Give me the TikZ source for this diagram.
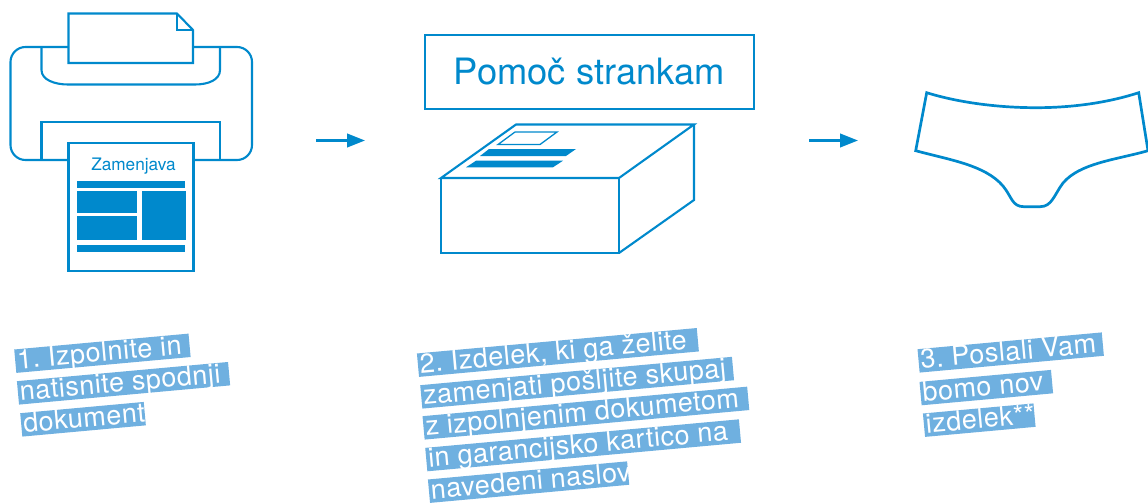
\documentclass[tikz,border=0pt]{standalone}
\usepackage{fontspec}
\setmainfont{TeX Gyre Heros}
\usetikzlibrary{arrows.meta}
\definecolor{blu}{RGB}{0,137,204}
\definecolor{hlc}{RGB}{111,176,224}
\newfontfamily\hlfont[LetterSpace=2]{TeX Gyre Heros}
\newcommand{\hltext}[2]{\makebox[#1][l]{\hspace{2pt}#2}}
\tikzset{
  outl/.style={draw=blu,line width=2.1pt,line join=miter,fill=white},
  lin/.style={draw=blu,line width=2.1pt},
  solidbar/.style={fill=blu,draw=none},
  flowarrow/.style={draw=blu,line width=2.6pt,-{Triangle[length=18pt,width=13.5pt]}},
  hl/.style={anchor=north west,rotate=5.2,fill=hlc,text=white,inner xsep=0pt,inner ysep=0pt,
    text height=19.8pt,text depth=3.7pt,
    font=\hlfont\fontsize{27}{30}\selectfont\frenchspacing},
}
\begin{document}
\begin{tikzpicture}[x=1pt,y=-1pt]
\useasboundingbox (0,0) rectangle (1148,503);
% printer
\draw[lin,rounded corners=15pt] (68.5,47) -- (10.5,47) -- (10.5,160) -- (68.5,160);
\draw[lin,rounded corners=15pt] (193,47) -- (252,47) -- (252,160) -- (193,160);
\draw[lin] (41.5,47) -- (41.5,70) .. controls (41.5,80) and (55,84.5) .. (68,84.5) -- (195,84.5) .. controls (208,84.5) and (220,80) .. (220,70) -- (220,47);
\draw[lin] (41.5,160) -- (41.5,122) -- (220,122) -- (220,160);
\draw[outl] (68.5,13.5) -- (177,13.5) -- (193,30) -- (193,63) -- (68.5,63) -- cycle;
\draw[lin] (177,13.5) -- (177,30) -- (193,30);
\draw[outl] (68.5,143) rectangle (193.5,271);
\node[text=blu,font=\fontsize{17.2}{20}\selectfont,inner sep=0pt] (zam) at (133.5,166) {Zamenjava};
\fill[solidbar] (77,181) rectangle (185,188);
\fill[solidbar] (77,191) rectangle (137,212.5);
\fill[solidbar] (142,191) rectangle (186,240);
\fill[solidbar] (77,216) rectangle (137,240);
\fill[solidbar] (77,245) rectangle (185,252);
% arrows
\coordinate (a1s) at (316,140.5); \coordinate (a1e) at (365,140.5);
\coordinate (a2s) at (809,140.5); \coordinate (a2e) at (858,140.5);
\draw[flowarrow] (a1s) -- (a1e);
\draw[flowarrow] (a2s) -- (a2e);
% help box
\node[draw=blu,line width=2.1pt,minimum width=329pt,minimum height=73.5pt,inner sep=0pt,text=blu,
  font=\fontsize{36.3}{40}\selectfont] (pomoc) at (589.5,72) {Pomoč strankam};
% parcel
\draw[lin,line join=miter] (441,178) -- (516,124.5) -- (694,124.5) -- (619,178) -- cycle;
\draw[lin,line join=miter] (441,178) -- (441,253) -- (619,253) -- (619,178);
\draw[lin,line join=miter] (694,124.5) -- (694,200) -- (619,253);
\draw[draw=blu,line width=1.3pt] (515,132) -- (557,132) -- (540,144.5) -- (498,144.5) -- cycle;
\fill[solidbar] (489,149) -- (576,149) -- (566,156) -- (480,156) -- cycle;
\fill[solidbar] (476,160.7) -- (563,160.7) -- (553,167.3) -- (466,167.3) -- cycle;
% briefs
\draw[draw=blu,line width=2.7pt,line join=miter]
  (926.7,92.7) .. controls (960,103) and (1000,107.7) .. (1036,107.7)
  .. controls (1075,107.7) and (1110,102) .. (1138.7,92.7)
  -- (1148,150.7)
  .. controls (1115,160) and (1080,163) .. (1063,183)
  .. controls (1054,195) and (1052,206.7) .. (1040,206.7)
  -- (1024,206.7)
  .. controls (1012,206.7) and (1012,197) .. (1003,186)
  .. controls (985,165) and (950,160) .. (915.7,150.7)
  -- cycle;
% captions
\node[hl] (c1a) at (14,349.3) {\hltext{175pt}{1. Izpolnite in}};
\node[hl] (c1b) at (16.7,381) {\hltext{212pt}{natisnite spodnji}};
\node[hl] (c1c) at (20,413) {\hltext{124pt}{dokument}};
\node[hl] (c2a) at (416.7,353.3) {\hltext{281pt}{2. Izdelek, ki ga želite}};
\node[hl] (c2b) at (420,385) {\hltext{313pt}{zamenjati pošljite skupaj}};
\node[hl] (c2c) at (422.3,416) {\hltext{326pt}{z izpolnjenim dokumetom}};
\node[hl] (c2d) at (425,447.7) {\hltext{315pt}{in garancijsko kartico na}};
\node[hl] (c2e) at (427.7,479.3) {\hltext{200pt}{navedeni naslov}};
\node[hl] (c3a) at (917.3,349) {\hltext{185pt}{3. Poslali Vam}};
\node[hl] (c3b) at (919.3,381.7) {\hltext{132pt}{bomo nov}};
\node[hl] (c3c) at (922.7,413.3) {\hltext{111pt}{izdelek**}};
\end{tikzpicture}
\end{document}
